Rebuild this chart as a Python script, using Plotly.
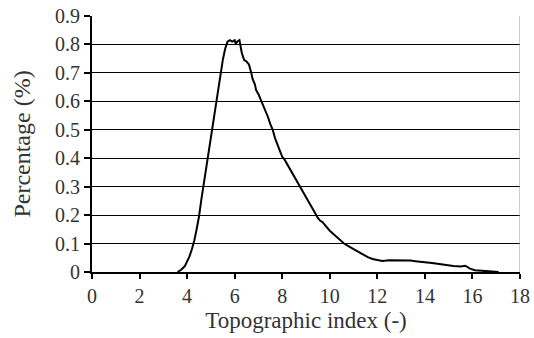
import plotly.graph_objects as go

topo_index = [3.60, 3.75, 3.90, 4.00, 4.10, 4.20, 4.30, 4.40, 4.50, 4.60, 4.70, 4.80, 4.90,
              5.00, 5.10, 5.20, 5.30, 5.40, 5.50, 5.60, 5.70, 5.80, 5.90, 6.00, 6.05, 6.10,
              6.20, 6.30, 6.40, 6.50, 6.60, 6.70, 6.75, 6.85, 6.90, 7.00, 7.10, 7.20, 7.30,
              7.40, 7.50, 7.60, 7.70, 7.80, 7.90, 8.00, 8.10, 8.20, 8.30, 8.40, 8.50, 8.60,
              8.70, 8.80, 8.90, 9.00, 9.10, 9.20, 9.30, 9.40, 9.50, 9.60, 9.70, 9.80, 9.90,
              10.0, 10.2, 10.4, 10.6, 10.8, 11.0, 11.2, 11.4, 11.6, 11.8, 12.0, 12.2, 12.5,
              12.8, 13.0, 13.2, 13.4, 13.6, 13.8, 14.0, 14.3, 14.6, 14.9, 15.2, 15.5, 15.7,
              15.9, 16.1, 16.4, 16.8, 17.1]
percentage = [0.0, 0.008, 0.02, 0.035, 0.055, 0.08, 0.11, 0.15, 0.195, 0.255, 0.31, 0.36, 0.42,
              0.48, 0.54, 0.595, 0.65, 0.70, 0.745, 0.785, 0.81, 0.815, 0.81, 0.815, 0.80, 0.81,
              0.815, 0.77, 0.745, 0.74, 0.73, 0.70, 0.68, 0.66, 0.64, 0.625, 0.605, 0.59, 0.565,
              0.545, 0.52, 0.50, 0.47, 0.45, 0.43, 0.405, 0.395, 0.38, 0.37, 0.355, 0.34, 0.32,
              0.305, 0.295, 0.28, 0.26, 0.245, 0.23, 0.215, 0.20, 0.19, 0.18, 0.175, 0.165, 0.155,
              0.145, 0.13, 0.115, 0.10, 0.09, 0.08, 0.07, 0.06, 0.052, 0.046, 0.042, 0.039, 0.041,
              0.041, 0.040, 0.042, 0.040, 0.038, 0.037, 0.036, 0.032, 0.028, 0.024, 0.021, 0.019, 0.022,
              0.012, 0.006, 0.004, 0.002, 0.0]

x_ticks = [0, 2, 4, 6, 8, 10, 12, 14, 16, 18]
y_ticks = [0, 0.1, 0.2, 0.3, 0.4, 0.5, 0.6, 0.7, 0.8, 0.9]
y_tick_labels = ["0", "0.1", "0.2", "0.3", "0.4", "0.5", "0.6", "0.7", "0.8", "0.9"]

font_family = "Liberation Serif"
text_color = "#333333"

fig = go.Figure()
fig.add_trace(go.Scatter(x=topo_index, y=percentage, mode="lines",
                         line=dict(color="black", width=2), showlegend=False))

fig.update_layout(
    width=534, height=338,
    margin=dict(l=92, r=14, t=16, b=66),
    paper_bgcolor="white", plot_bgcolor="white",
    font=dict(family=font_family, size=20, color=text_color),
    xaxis=dict(range=[0, 18], tickvals=x_ticks, ticks="outside", ticklen=5,
               tickcolor="black", tickwidth=1.5, showgrid=False, zeroline=False,
               showline=True, linecolor="black", linewidth=2, automargin=False,
               title=dict(text="Topographic index (-)", font=dict(size=23), standoff=6),
               tickfont=dict(size=20)),
    yaxis=dict(range=[0, 0.9], tickvals=y_ticks, ticktext=y_tick_labels, ticks="outside",
               ticklen=6, tickcolor="black", tickwidth=1.5, showgrid=True,
               gridcolor="black", gridwidth=1, zeroline=False,
               showline=True, linecolor="black", linewidth=2, automargin=False,
               title=dict(text="Percentage (%)", font=dict(size=24), standoff=18),
               tickfont=dict(size=20)),
)
fig.add_shape(type="line", xref="x", yref="paper", x0=18, x1=18, y0=0, y1=1,
              line=dict(color="#999999", width=1))

fig.write_html("out.html")
